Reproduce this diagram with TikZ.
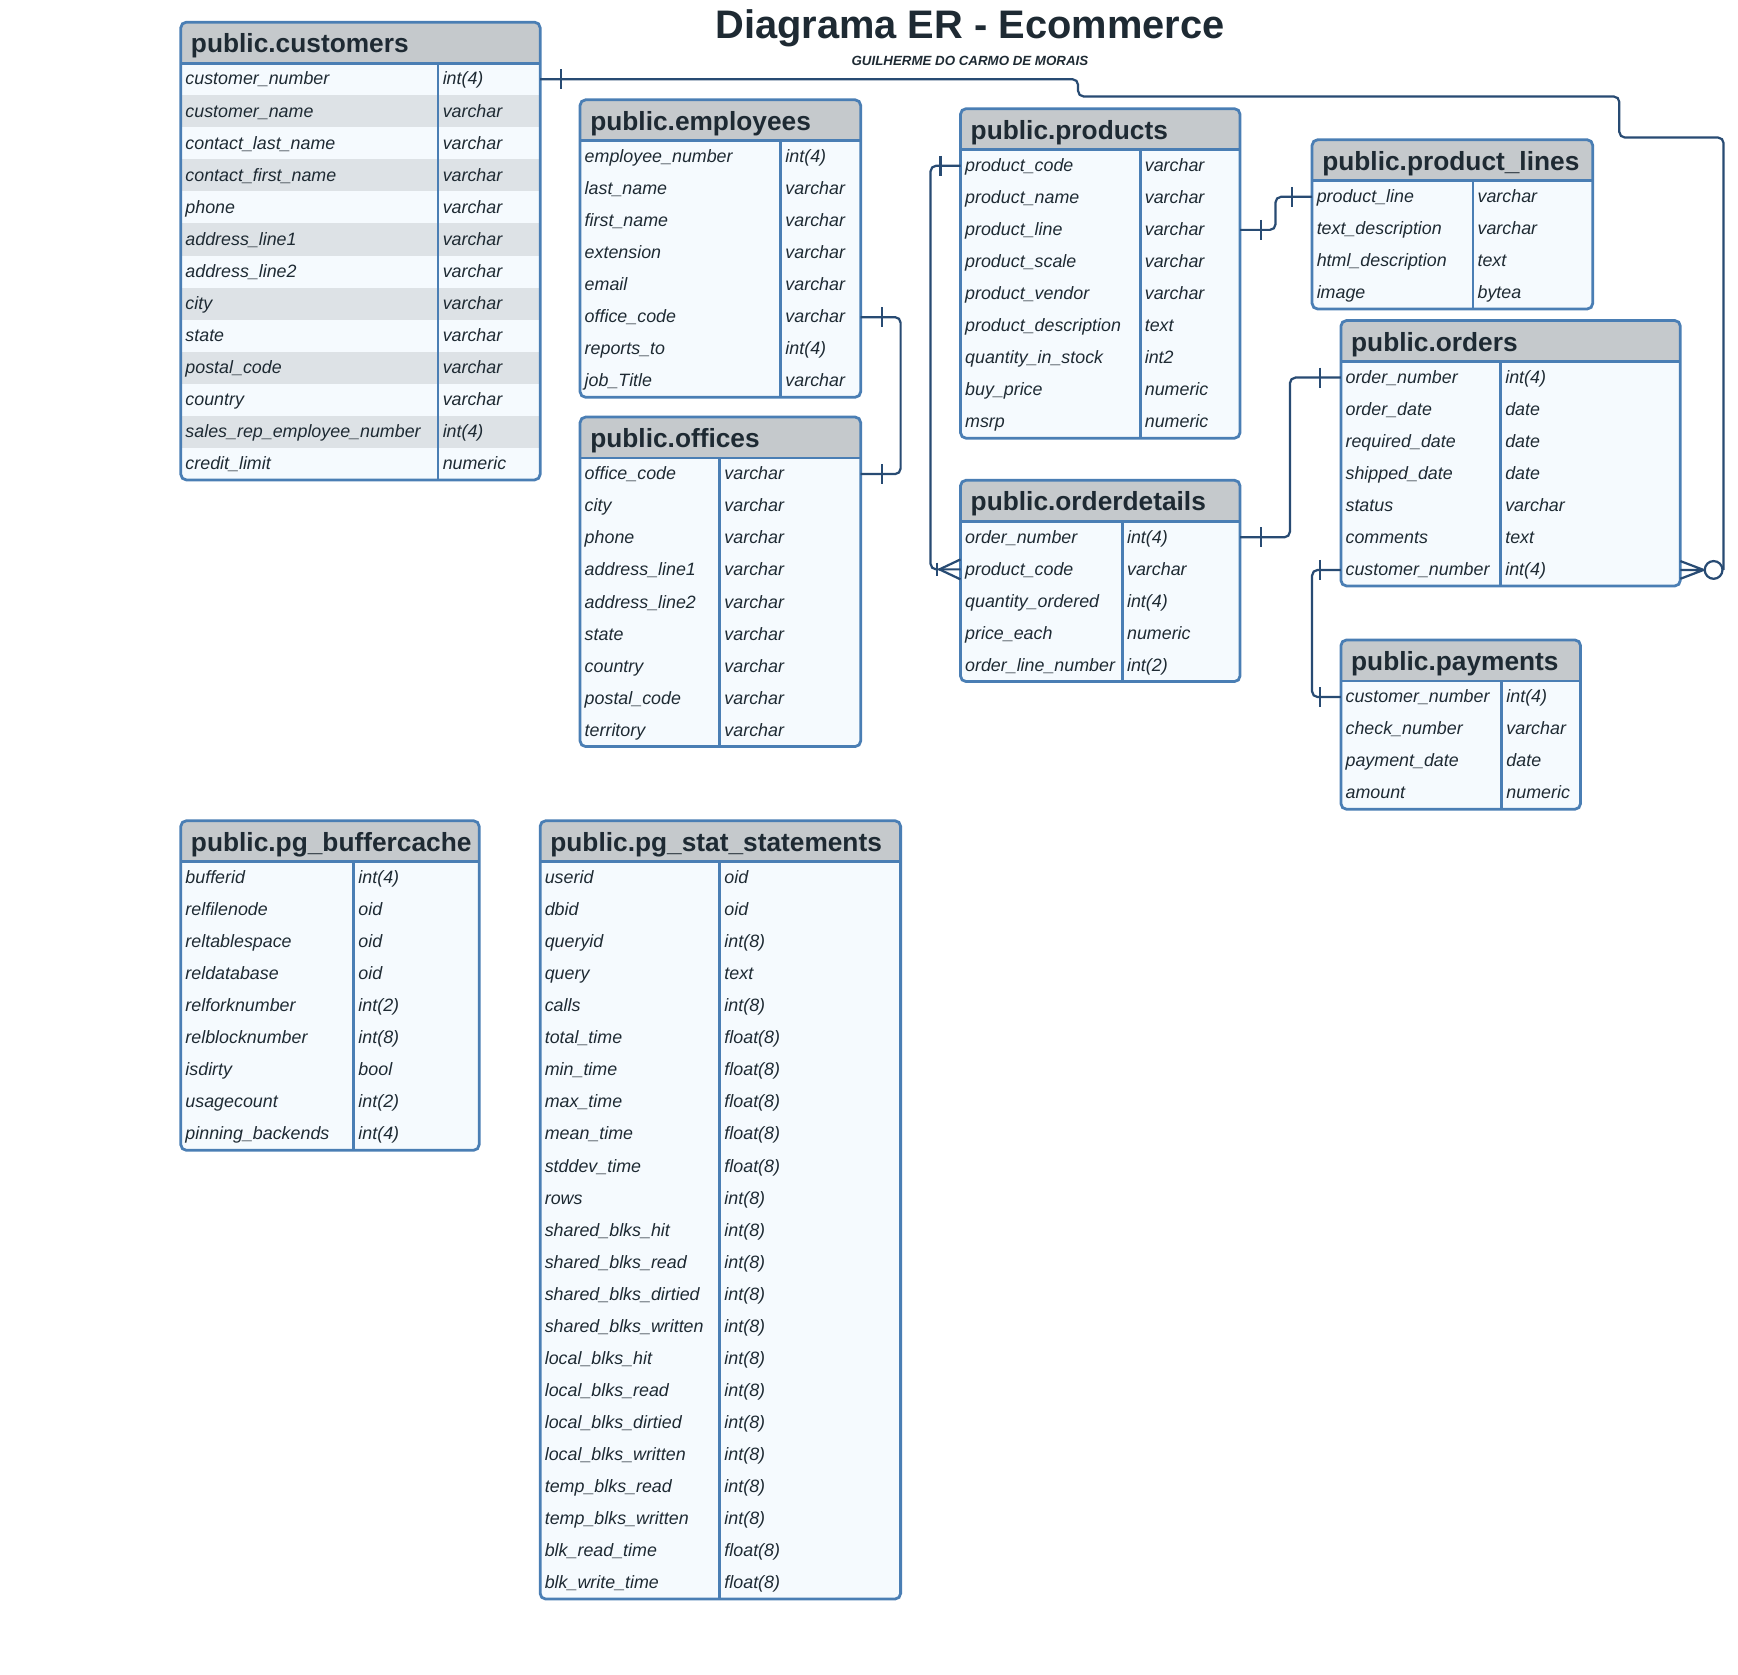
\documentclass[tikz,border=0pt]{standalone}
\usepackage{fontspec}
\setmainfont{Liberation Sans}

\definecolor{tblborder}{HTML}{4A7EB4}
\definecolor{headfill}{HTML}{C5C9CC}
\definecolor{bodyfill}{HTML}{F5FAFE}
\definecolor{stripefill}{HTML}{DDE2E6}
\definecolor{inkcol}{HTML}{1E2A33}
\definecolor{linkcol}{HTML}{284B73}

\newcommand\headfont{\fontsize{23.7}{26}\selectfont\bfseries}
\newcommand\cellfont{\fontsize{16.1}{18}\selectfont\itshape}
\newcommand\rowh{28.9}
\newcommand\headh{37}

\tikzset{
	frameline/.style={draw=tblborder, line width=2.5pt},
	headtext/.style={font=\headfont, text=inkcol, anchor=base west, inner sep=0pt},
	celltext/.style={font=\cellfont, text=inkcol, anchor=base west, inner sep=0pt},
	rowbox/.style={anchor=north west, inner sep=0pt, outer sep=0pt, minimum height=\rowh pt},
	titletext/.style={font=\fontsize{35.9}{40}\selectfont\bfseries, text=inkcol, anchor=base, inner sep=0pt},
	authortext/.style={font=\fontsize{12}{14}\selectfont\bfseries\itshape, text=inkcol, anchor=base, inner sep=0pt},
	link/.style={draw=linkcol, line width=2pt, rounded corners=5pt},
	tick/.style={draw=linkcol, line width=2pt},
	zerocirc/.style={circle, draw=linkcol, line width=2pt, fill=white, minimum size=16pt, inner sep=0pt},
}

% \ertable[stripe]{name}{left}{top}{right}{divider}{title}{field/type,...}
\newcommand\ertable[8][bodyfill]{%
	\foreach \fld/\typ [count=\rowno] in {#8} {\xdef\nrows{\rowno}}
	\pgfmathsetmacro\hb{#4+\headh}
	\pgfmathsetmacro\bb{\hb+\nrows*\rowh}
	\pgfmathsetmacro\tw{#5-#3}
	\fill[bodyfill, rounded corners=5pt] (#3,\hb) |- (#5,\bb) -- (#5,\hb);
	\fill[headfill, rounded corners=5pt] (#3,\hb) |- (#5,#4) -- (#5,\hb);
	\node[headtext] (#2) at (#3+9,#4+27.5) {#7};
	\foreach \fld/\typ [count=\rowno] in {#8} {
		\pgfmathsetmacro\ry{\hb+(\rowno-1)*\rowh}
		\node[rowbox, minimum width=\tw pt] (#2-r\rowno) at (#3,\ry) {};
		\ifodd\rowno\else\fill[#1] (#2-r\rowno.north west) rectangle (#2-r\rowno.south east);\fi
		\node[celltext] (#2-f\rowno) at (#3+4,\ry+19.6) {\fld};
		\node[celltext] (#2-t\rowno) at (#6+4,\ry+19.6) {\typ};
	}
	\draw[frameline] (#3,\hb) -- (#5,\hb) (#6,\hb) -- (#6,\bb);
	\draw[frameline, rounded corners=5pt] (#3,#4) rectangle (#5,\bb);
}

\begin{document}
\begin{tikzpicture}[x=1pt,y=-1pt]
	\fill[white] (0,0) rectangle (1567,1510);
	\node[titletext] (title) at (874.5,35) {Diagrama ER - Ecommerce};
	\node[authortext] (author) at (874.5,59.5) {GUILHERME DO CARMO DE MORAIS};

	\ertable[stripefill]{cust}{163}{20}{487}{395}{public.customers}{customer\_number/int(4), customer\_name/varchar, contact\_last\_name/varchar, contact\_first\_name/varchar, phone/varchar, address\_line1/varchar, address\_line2/varchar, city/varchar, state/varchar, postal\_code/varchar, country/varchar, sales\_rep\_employee\_number/int(4), credit\_limit/numeric}
	\ertable{emp}{523}{90}{776}{704}{public.employees}{employee\_number/int(4), last\_name/varchar, first\_name/varchar, extension/varchar, email/varchar, office\_code/varchar, reports\_to/int(4), job\_Title/varchar}
	\ertable{off}{523}{376}{776}{649}{public.offices}{office\_code/varchar, city/varchar, phone/varchar, address\_line1/varchar, address\_line2/varchar, state/varchar, country/varchar, postal\_code/varchar, territory/varchar}
	\ertable{prod}{866}{98}{1118}{1028}{public.products}{product\_code/varchar, product\_name/varchar, product\_line/varchar, product\_scale/varchar, product\_vendor/varchar, product\_description/text, quantity\_in\_stock/int2, buy\_price/numeric, msrp/numeric}
	\ertable{pl}{1183}{126}{1436}{1328}{public.product\_lines}{product\_line/varchar, text\_description/varchar, html\_description/text, image/bytea}
	\ertable{ord}{1209}{289}{1515}{1353}{public.orders}{order\_number/int(4), order\_date/date, required\_date/date, shipped\_date/date, status/varchar, comments/text, customer\_number/int(4)}
	\ertable{od}{866}{433}{1118}{1012}{public.orderdetails}{order\_number/int(4), product\_code/varchar, quantity\_ordered/int(4), price\_each/numeric, order\_line\_number/int(2)}
	\ertable{pay}{1209}{577}{1425}{1354}{public.payments}{customer\_number/int(4), check\_number/varchar, payment\_date/date, amount/numeric}
	\ertable{buf}{163}{740}{432}{319}{public.pg\_buffercache}{bufferid/int(4), relfilenode/oid, reltablespace/oid, reldatabase/oid, relforknumber/int(2), relblocknumber/int(8), isdirty/bool, usagecount/int(2), pinning\_backends/int(4)}
	\ertable{stat}{487}{740}{812}{649}{public.pg\_stat\_statements}{userid/oid, dbid/oid, queryid/int(8), query/text, calls/int(8), total\_time/float(8), min\_time/float(8), max\_time/float(8), mean\_time/float(8), stddev\_time/float(8), rows/int(8), shared\_blks\_hit/int(8), shared\_blks\_read/int(8), shared\_blks\_dirtied/int(8), shared\_blks\_written/int(8), local\_blks\_hit/int(8), local\_blks\_read/int(8), local\_blks\_dirtied/int(8), local\_blks\_written/int(8), temp\_blks\_read/int(8), temp\_blks\_written/int(8), blk\_read\_time/float(8), blk\_write\_time/float(8)}

	\node[zerocirc] (zero) at ([xshift=30pt]ord-r7.east) {};
	\draw[link] (cust-r1.east) -| (972,87) -| (1460,124) -| (zero.east);
	\draw[tick] (zero.west) -- (ord-r7.east) (zero.west) -- ([yshift=8pt]ord-r7.east) (zero.west) -- ([yshift=-8pt]ord-r7.east);
	\draw[link] (emp-r6.east) -- ++(36,0) |- (off-r1.east);
	\draw[link] (prod-r1.west) -- ++(-27,0) |- (od-r2.west);
	\draw[link] (prod-r3.east) -- ++(32,0) |- (pl-r1.west);
	\draw[link] (od-r1.east) -- ++(45,0) |- (ord-r1.west);
	\draw[link] (ord-r7.west) -- ++(-26,0) |- (pay-r1.west);
	\draw[tick] ([xshift=-19pt]od-r2.west) -- ([yshift=9pt]od-r2.west) ([xshift=-19pt]od-r2.west) -- ([yshift=-9pt]od-r2.west);
	\draw[tick] ([xshift=-21pt]od-r2.west) +(0,-6) -- +(0,6);
	\foreach \p/\d in {cust-r1.east/19, emp-r6.east/19, off-r1.east/19, prod-r1.west/-18, prod-r3.east/19, pl-r1.west/-18, od-r1.east/19, ord-r1.west/-19, ord-r7.west/-19, pay-r1.west/-19}
		\draw[tick] ([xshift=\d pt]\p) +(0,-9) -- +(0,9);
\end{tikzpicture}
\end{document}
